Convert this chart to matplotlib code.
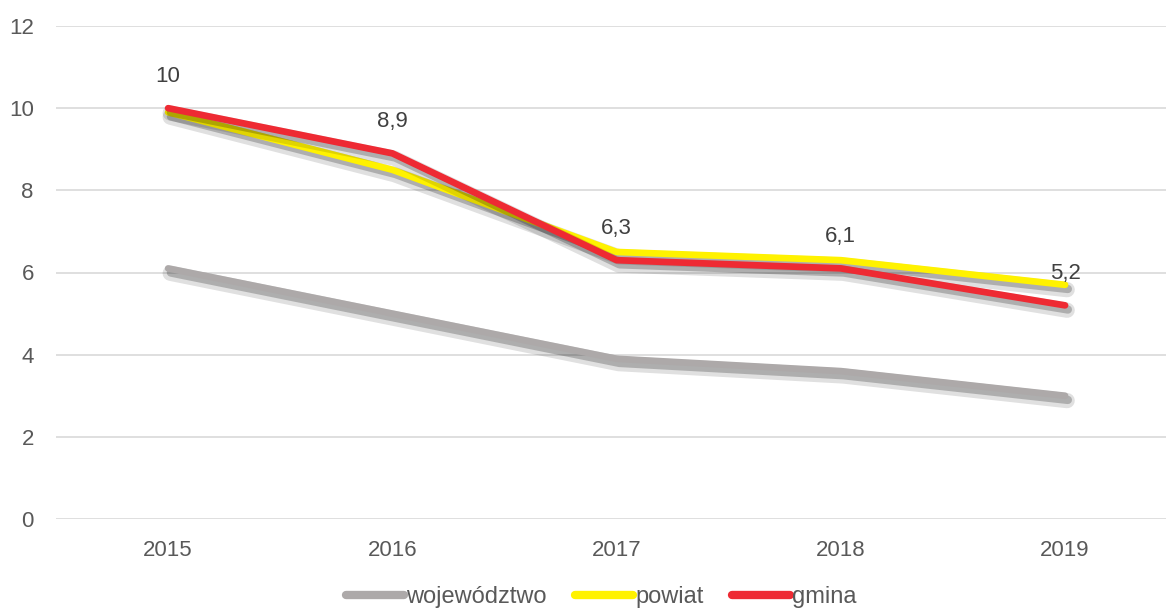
import matplotlib.pyplot as plt
import matplotlib.patheffects as pe

plt.rcParams['font.family'] = ['Liberation Sans', 'DejaVu Sans']

# data
years = ['2015', '2016', '2017', '2018', '2019']
wojewodztwo = [6.1, 5.0, 3.9, 3.6, 3.0]
powiat = [9.9, 8.5, 6.5, 6.3, 5.7]
gmina = [10.0, 8.9, 6.3, 6.1, 5.2]
gmina_labels = ['10', '8,9', '6,3', '6,1', '5,2']

series = [
    ('województwo', wojewodztwo, '#ADA9A9'),
    ('powiat', powiat, '#FFF200'),
    ('gmina', gmina, '#EE2A33'),
]

fig = plt.figure(figsize=(11.66, 6.10), dpi=100)
ax = fig.add_axes([56 / 1166, 91 / 610, 1 - 56 / 1166, 493 / 610])

x = list(range(len(years)))

# soft shadow under the lines
shadow = [
    pe.SimpleLineShadow(offset=(1.5, -3.5), shadow_color='black', alpha=0.12, linewidth=11),
    pe.SimpleLineShadow(offset=(2, -3), shadow_color='black', alpha=0.22, linewidth=6),
    pe.Normal(),
]

for name, vals, col in series:
    ax.plot(x, vals, color=col, lw=4.8, label=name, solid_capstyle='round',
            solid_joinstyle='round', path_effects=shadow)

for xi, v, lab in zip(x, gmina, gmina_labels):
    ax.annotate(lab, (xi, v), xytext=(0, 23), textcoords='offset points',
                ha='center', va='center', fontsize=16, color='#404040')

ax.set_ylim(0, 12)
ax.set_yticks(range(0, 13, 2))
ax.set_xlim(-0.5, 4.45)
ax.set_xticks(x)
ax.set_xticklabels(years)
ax.grid(axis='y', color='#D9D9D9', lw=1.2)
ax.set_axisbelow(True)
for s in ax.spines.values():
    s.set_visible(False)
ax.tick_params(length=0, labelsize=16, labelcolor='#595959')
ax.tick_params(axis='x', pad=15)
ax.tick_params(axis='y', pad=16)

leg_handles = [plt.Line2D([], [], color=c, lw=6, solid_capstyle='round') for _, _, c in series]
fig.legend(leg_handles, [n for n, _, _ in series], loc='center',
           bbox_to_anchor=(0.516, 13 / 610), ncol=3, frameon=False, fontsize=17,
           handlelength=2.45, handletextpad=0.1, columnspacing=1.2, labelcolor='#595959',
           borderpad=0)

fig.savefig('out.png', dpi=100)
